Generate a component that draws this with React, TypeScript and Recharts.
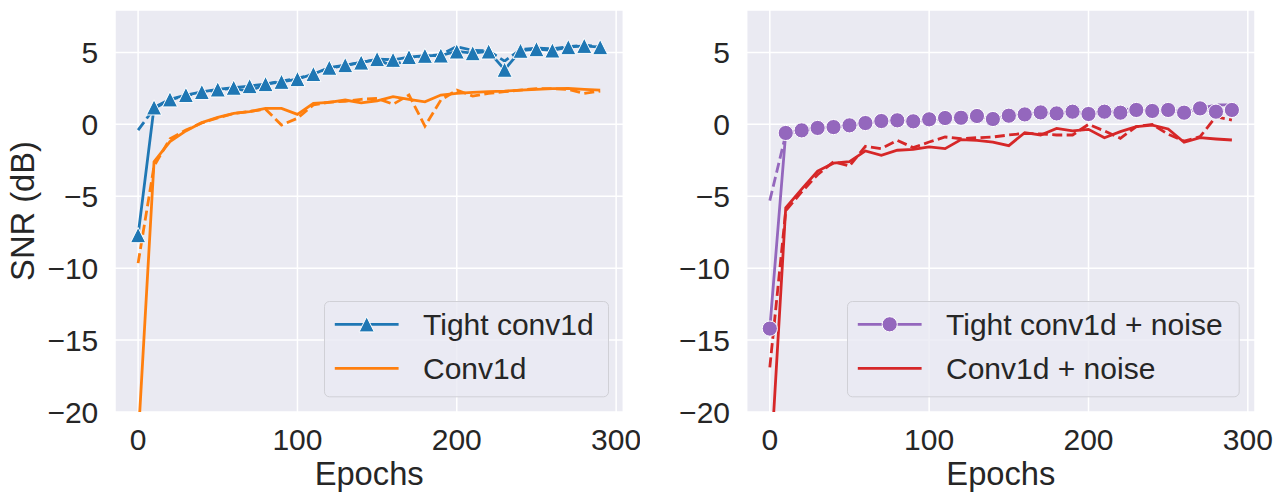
import React from 'react';
import { LineChart, Line, XAxis, YAxis, CartesianGrid, Legend } from 'recharts';

const epochs = [0, 10, 20, 30, 40, 50, 60, 70, 80, 90, 100, 110, 120, 130, 140, 150, 160, 170, 180, 190, 200, 210, 220, 230, 240, 250, 260, 270, 280, 290];

const tightConv1d = [-7.7, 1.18, 1.74, 2.04, 2.25, 2.43, 2.55, 2.66, 2.8, 2.96, 3.15, 3.5, 3.94, 4.12, 4.3, 4.54, 4.49, 4.68, 4.77, 4.79, 5.07, 4.95, 5.07, 3.8, 5.12, 5.23, 5.14, 5.37, 5.46, 5.37];
const tightConv1dDashed = [-0.4, 1.1, 1.7, 2.0, 2.2, 2.4, 2.5, 2.3, 2.8, 3.0, 3.2, 3.5, 3.9, 4.1, 4.3, 4.5, 4.05, 4.6, 4.75, 4.85, 5.4, 5.15, 5.1, 4.4, 5.2, 5.3, 5.25, 5.4, 5.5, 5.4];
const conv1d = [-22, -2.6, -1.2, -0.46, 0.12, 0.49, 0.76, 0.88, 1.11, 1.11, 0.69, 1.46, 1.53, 1.69, 1.5, 1.64, 1.92, 1.74, 1.57, 2.04, 2.15, 2.22, 2.27, 2.31, 2.38, 2.43, 2.48, 2.5, 2.43, 2.38];
const conv1dDashed = [-9.65, -2.9, -1.0, -0.4, 0.1, 0.45, 0.75, 0.9, 1.05, -0.05, 0.42, 1.35, 1.55, 1.6, 1.74, 1.8, 1.4, 2.04, -0.12, 1.69, 2.38, 1.97, 2.15, 2.27, 2.38, 2.48, 2.48, 2.43, 2.15, 2.31];

const tightNoise = [-14.2, -0.6, -0.42, -0.25, -0.19, -0.07, 0.09, 0.23, 0.28, 0.21, 0.35, 0.44, 0.46, 0.58, 0.37, 0.6, 0.69, 0.83, 0.76, 0.88, 0.72, 0.88, 0.81, 1.0, 0.93, 1.0, 0.81, 1.11, 0.88, 1.0];
const tightNoiseDashed = [-5.3, -0.7, -0.45, -0.25, -0.2, -0.1, 0.05, 0.2, 0.25, 0.2, 0.3, 0.4, 0.45, 0.55, 0.4, 0.55, 0.65, 0.8, 0.75, 0.85, 0.75, 0.85, 0.9, 1.2, 0.95, 1.0, 0.85, 1.1, 1.35, 1.35];
const convNoise = [-24.7, -5.8, -4.5, -3.25, -2.7, -2.6, -1.85, -2.15, -1.8, -1.74, -1.57, -1.69, -1.06, -1.11, -1.23, -1.48, -0.58, -0.74, -0.28, -0.46, -0.35, -0.93, -0.51, -0.16, -0.05, -0.32, -1.25, -0.93, -1.02, -1.09];
const convNoiseDashed = [-16.9, -6.0, -4.7, -3.5, -2.6, -2.9, -1.53, -1.69, -1.11, -1.62, -1.23, -0.88, -1.0, -0.93, -0.88, -0.74, -0.63, -0.67, -0.74, -0.74, 0.0, -0.46, -0.97, -0.16, 0.0, -0.69, -1.16, -0.86, 0.53, 0.3];

const xTicks = [0, 100, 200, 300];
const yTicks = [-20, -15, -10, -5, 0, 5];

const leftData = epochs.map((e, i) => ({
  epoch: e,
  tight: tightConv1d[i],
  tightDash: tightConv1dDashed[i],
  conv: conv1d[i],
  convDash: conv1dDashed[i],
}));
const rightData = epochs.map((e, i) => ({
  epoch: e,
  tight: tightNoise[i],
  tightDash: tightNoiseDashed[i],
  conv: convNoise[i],
  convDash: convNoiseDashed[i],
}));

const FONT = '"Liberation Sans", Arial, sans-serif';
const TEXT = '#262626';
const BLUE = '#1f77b4';
const ORANGE = '#ff7f0e';
const PURPLE = '#9467bd';
const RED = '#d62728';
const LW = 2.8;
const DASH = '10 4.4';

const fmt = (v: number) => (v < 0 ? '\u2212' + Math.abs(v) : String(v));

const triPath = (cx: number, cy: number, s: number) =>
  `M${cx},${cy - s}L${cx + s},${cy + s}L${cx - s},${cy + s}Z`;

const TriangleDot = (props: any) => {
  const { cx, cy, index } = props;
  if (cx == null || cy == null) return <g key={`t-${index}`} />;
  return <path key={`t-${index}`} d={triPath(cx, cy, 7.6)} fill={BLUE} stroke="#fff" strokeWidth={1} />;
};

const CircleDot = (props: any) => {
  const { cx, cy, index } = props;
  if (cx == null || cy == null) return <g key={`c-${index}`} />;
  return <circle key={`c-${index}`} cx={cx} cy={cy} r={7.6} fill={PURPLE} stroke="#fff" strokeWidth={1} />;
};

const markerOf: Record<string, string> = {
  'Tight conv1d': 'triangle',
  'Tight conv1d + noise': 'circle',
};
const legendOrder = ['Tight conv1d', 'Conv1d', 'Tight conv1d + noise', 'Conv1d + noise'];

const makeLegend = (w: number) => (props: any) => {
  const payload = (props.payload || [])
    .filter((p: any) => p.type !== 'none')
    .slice()
    .sort((a: any, b: any) => legendOrder.indexOf(a.value) - legendOrder.indexOf(b.value));
  const h = 96.3;
  return (
    <svg width={w} height={h} style={{ display: 'block', overflow: 'visible' }}>
      <rect x={0.5} y={0.5} width={w - 1} height={h - 1} rx={5} ry={5} fill="rgba(234,234,242,0.8)" stroke="#d0d0d6" strokeWidth={1} />
      {payload.map((p: any, i: number) => {
        const cy = 23.3 + 44 * i;
        const m = markerOf[p.value];
        return (
          <g key={p.value}>
            <line x1={10.8} x2={74.6} y1={cy} y2={cy} stroke={p.color} strokeWidth={LW} />
            {m === 'triangle' && <path d={triPath(42.7, cy, 7.6)} fill={p.color} stroke="#fff" strokeWidth={1} />}
            {m === 'circle' && <circle cx={42.7} cy={cy} r={7.6} fill={p.color} stroke="#fff" strokeWidth={1} />}
            <text x={99} y={cy + 10.7} fontSize={30} fill={TEXT} fontFamily={FONT}>{p.value}</text>
          </g>
        );
      })}
    </svg>
  );
};

type PanelProps = {
  data: any[];
  width: number;
  yAxisWidth: number;
  marginRight: number;
  solidName: string;
  convName: string;
  solidColor: string;
  convColor: string;
  dot: any;
  legendLeft: number;
  legendWidth: number;
  showYLabel: boolean;
};

const Panel = (p: PanelProps) => (
  <LineChart
    width={p.width}
    height={493}
    data={p.data}
    margin={{ top: 10, right: p.marginRight, bottom: 0, left: 0 }}
    style={{ fontFamily: FONT }}
  >
    <CartesianGrid fill="#EAEAF2" fillOpacity={1} stroke="#ffffff" strokeWidth={1.5} horizontal vertical />
    <XAxis
      dataKey="epoch"
      type="number"
      domain={[-14.5, 304.5]}
      ticks={xTicks}
      allowDataOverflow
      axisLine={false}
      tickLine={false}
      tickSize={0}
      tickMargin={16.7}
      height={81}
      tick={{ fontSize: 30, fill: TEXT, fontFamily: FONT }}
      label={{ value: 'Epochs', position: 'insideBottom', offset: 8, fontSize: 32.7, fill: TEXT, fontFamily: FONT }}
    />
    <YAxis
      type="number"
      domain={[-20, 7.95]}
      ticks={yTicks}
      allowDataOverflow
      axisLine={false}
      tickLine={false}
      tickSize={0}
      tickMargin={16.7}
      width={p.yAxisWidth}
      tickFormatter={fmt}
      tick={{ fontSize: 30, fill: TEXT, fontFamily: FONT }}
      label={
        p.showYLabel
          ? (lp: any) => (
              <text
                x={34}
                y={211}
                transform="rotate(-90 34 211)"
                textAnchor="middle"
                fontSize={32.7}
                fill={TEXT}
                fontFamily={FONT}
              >
                SNR (dB)
              </text>
            )
          : undefined
      }
    />
    <Legend
      layout="horizontal"
      verticalAlign="middle"
      align="center"
      content={makeLegend(p.legendWidth)}
      wrapperStyle={{ position: 'absolute', left: p.legendLeft, top: 301, width: p.legendWidth, height: 96.3 }}
    />
    <Line dataKey="tightDash" stroke={p.solidColor} strokeWidth={LW} strokeDasharray={DASH} dot={false} activeDot={false} legendType="none" isAnimationActive={false} type="linear" />
    <Line dataKey="convDash" stroke={p.convColor} strokeWidth={LW} strokeDasharray={DASH} dot={false} activeDot={false} legendType="none" isAnimationActive={false} type="linear" />
    <Line name={p.solidName} dataKey="tight" stroke={p.solidColor} strokeWidth={LW} dot={p.dot} activeDot={false} legendType="line" isAnimationActive={false} type="linear" />
    <Line name={p.convName} dataKey="conv" stroke={p.convColor} strokeWidth={LW} dot={false} activeDot={false} legendType="line" isAnimationActive={false} type="linear" />
  </LineChart>
);

export default function App() {
  return (
    <div style={{ position: 'fixed', left: 0, top: 0, width: 1286, height: 493, background: '#fff', fontFamily: FONT }}>
      <div style={{ position: 'absolute', left: 0, top: 0 }}>
        <Panel
          data={leftData}
          width={640}
          yAxisWidth={115}
          marginRight={16.7}
          solidName="Tight conv1d"
          convName="Conv1d"
          solidColor={BLUE}
          convColor={ORANGE}
          dot={TriangleDot}
          legendLeft={324.3}
          legendWidth={285}
          showYLabel
        />
      </div>
      <div style={{ position: 'absolute', left: 640, top: 0 }}>
        <Panel
          data={rightData}
          width={646}
          yAxisWidth={106.7}
          marginRight={31}
          solidName="Tight conv1d + noise"
          convName="Conv1d + noise"
          solidColor={PURPLE}
          convColor={RED}
          dot={CircleDot}
          legendLeft={207.3}
          legendWidth={392.7}
          showYLabel={false}
        />
      </div>
    </div>
  );
}
